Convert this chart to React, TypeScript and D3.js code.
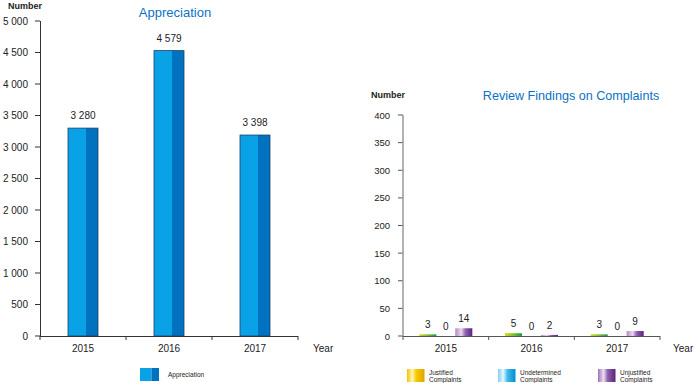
import React from "react";
import * as d3 from "d3";

const years = ["2015", "2016", "2017"];
// Appreciation: bar heights as drawn, and the printed labels
const appreciationBars = [3300, 4530, 3190];
const appreciationLabels = ["3 280", "4 579", "3 398"];
const leftTicks = [0, 500, 1000, 1500, 2000, 2500, 3000, 3500, 4000, 4500, 5000];
const leftTickLabels = ["0", "500", "1 000", "1 500", "2 000", "2 500", "3 000", "3 500", "4 000", "4 500", "5 000"];

const complaintSeries = ["Justified", "Undetermined", "Unjustified"];
const justified = [3, 5, 3];
const undetermined = [0, 0, 0];
const unjustified = [14, 2, 9];
const rightTicks = [0, 50, 100, 150, 200, 250, 300, 350, 400];

const FONT = "'Liberation Sans', Arial, sans-serif";

export default function App() {
  // Left chart scales
  const lx = d3.scaleBand<string>().domain(years).range([40, 298]);
  const ly = d3.scaleLinear().domain([0, 5000]).range([336, 21]);
  const barW = 30;

  // Right chart scales
  const rx = d3.scaleBand<string>().domain(years).range([403, 660]);
  const ry = d3.scaleLinear().domain([0, 400]).range([336, 115]);
  const seriesVals = [justified, undetermined, unjustified];
  const inner = d3.scaleBand<string>().domain(complaintSeries).range([-26.5, 26.5]).paddingInner(0.05);
  const barFills = ["url(#gJusBar)", "url(#gUndBar)", "url(#gUnjBar)"];
  const legendFills = ["url(#gJus)", "url(#gUnd)", "url(#gUnj)"];
  const legendX = [407, 498, 598];

  const lBounds = [40, ...years.map((y) => (lx(y) as number) + lx.bandwidth())];
  const rBounds = [403, ...years.map((y) => (rx(y) as number) + rx.bandwidth())];

  return (
    <svg width={700} height={383} style={{ position: "absolute", left: 0, top: 0, background: "#fff" }} fontFamily={FONT}>
      <defs>
        <linearGradient id="gJus" x1="0" x2="1" y1="0" y2="0">
          <stop offset="0" stopColor="#f2c200" />
          <stop offset="0.3" stopColor="#fff5b0" />
          <stop offset="0.55" stopColor="#f5c800" />
          <stop offset="1" stopColor="#e0a400" />
        </linearGradient>
        <linearGradient id="gUnd" x1="0" x2="1" y1="0" y2="0">
          <stop offset="0" stopColor="#80d0f0" />
          <stop offset="0.3" stopColor="#e6f7ff" />
          <stop offset="0.55" stopColor="#40b8ea" />
          <stop offset="1" stopColor="#0090d0" />
        </linearGradient>
        <linearGradient id="gUnj" x1="0" x2="1" y1="0" y2="0">
          <stop offset="0" stopColor="#a070b8" />
          <stop offset="0.32" stopColor="#ecdff2" />
          <stop offset="0.55" stopColor="#9060b0" />
          <stop offset="1" stopColor="#5a2478" />
        </linearGradient>
        <linearGradient id="gJusBar" x1="0" x2="1" y1="0" y2="0">
          <stop offset="0" stopColor="#d8d800" />
          <stop offset="0.4" stopColor="#8cc630" />
          <stop offset="1" stopColor="#1e9a40" />
        </linearGradient>
        <linearGradient id="gUndBar" x1="0" x2="1" y1="0" y2="0">
          <stop offset="0" stopColor="#80d0f0" />
          <stop offset="0.3" stopColor="#e6f7ff" />
          <stop offset="1" stopColor="#0090d0" />
        </linearGradient>
        <linearGradient id="gUnjBar" x1="0" x2="1" y1="0" y2="0">
          <stop offset="0" stopColor="#b688c8" />
          <stop offset="0.35" stopColor="#ead8f0" />
          <stop offset="0.6" stopColor="#9060b0" />
          <stop offset="1" stopColor="#5a2478" />
        </linearGradient>
      </defs>

      {/* ===== Left chart ===== */}
      <text x={8} y={9} fontSize={9} fontWeight="bold" fill="#222">Number</text>
      <text x={175} y={17} fontSize={13} fill="#0a72c4" textAnchor="middle">Appreciation</text>
      {leftTicks.map((t, i) => (
        <g key={t}>
          <line x1={35} x2={40} y1={ly(t)} y2={ly(t)} stroke="#333" />
          <text x={28} y={ly(t) + 3.5} fontSize={10} textAnchor="end" fill="#222">{leftTickLabels[i]}</text>
        </g>
      ))}
      <line x1={40.5} x2={40.5} y1={ly(5000)} y2={ly(0)} stroke="#333" />
      {years.map((y, i) => {
        const cx = (lx(y) as number) + lx.bandwidth() / 2;
        const x0 = cx - barW / 2;
        const top = ly(appreciationBars[i]);
        const h = ly(0) - top;
        return (
          <g key={y}>
            <rect x={x0} y={top} width={barW * 0.6} height={h} fill="#0aa2e6" />
            <rect x={x0 + barW * 0.6} y={top} width={barW * 0.4} height={h} fill="#0072c0" />
            <rect x={x0} y={top} width={barW} height={h} fill="none" stroke="#1d3f66" strokeWidth={0.8} />
            <text x={cx} y={top - 9} fontSize={10} textAnchor="middle" fill="#222">{appreciationLabels[i]}</text>
            <text x={cx} y={352} fontSize={10} textAnchor="middle" fill="#222">{y}</text>
          </g>
        );
      })}
      <line x1={40} x2={298} y1={336.5} y2={336.5} stroke="#333" />
      {lBounds.map((b) => (
        <line key={b} x1={b} x2={b} y1={336} y2={340} stroke="#333" />
      ))}
      <text x={313} y={352} fontSize={10} fill="#222">Year</text>
      {/* legend */}
      <rect x={140} y={368} width={11.5} height={13} fill="#0aa2e6" />
      <rect x={151.5} y={368} width={7.5} height={13} fill="#0072c0" />
      <text x={168} y={376.5} fontSize={6.5} fill="#222">Appreciation</text>

      {/* ===== Right chart ===== */}
      <text x={371} y={98} fontSize={9} fontWeight="bold" fill="#222">Number</text>
      <text x={571} y={100} fontSize={12.6} fill="#0a72c4" textAnchor="middle">Review Findings on Complaints</text>
      {rightTicks.map((t) => (
        <g key={t}>
          <line x1={398} x2={403} y1={ry(t)} y2={ry(t)} stroke="#555" />
          <text x={390} y={ry(t) + 3.5} fontSize={9.5} textAnchor="end" fill="#222">{t}</text>
        </g>
      ))}
      <line x1={403} x2={403} y1={ry(400)} y2={ry(0)} stroke="#999" strokeWidth={1.5} />
      {years.map((y, i) => {
        const cx = (rx(y) as number) + rx.bandwidth() / 2;
        return (
          <g key={y}>
            {complaintSeries.map((s, k) => {
              const v = seriesVals[k][i];
              const bx = cx + (inner(s) as number);
              const top = ry(v);
              return (
                <g key={s}>
                  {v > 0 && <rect x={bx} y={top} width={inner.bandwidth()} height={ry(0) - top} fill={barFills[k]} />}
                  <text x={bx + inner.bandwidth() / 2} y={top - 6} fontSize={10} textAnchor="middle" fill="#222">{v}</text>
                </g>
              );
            })}
            <text x={cx} y={352} fontSize={10} textAnchor="middle" fill="#222">{y}</text>
          </g>
        );
      })}
      <line x1={403} x2={660} y1={336.5} y2={336.5} stroke="#555" />
      {rBounds.map((b) => (
        <line key={b} x1={b} x2={b} y1={336} y2={340} stroke="#555" />
      ))}
      <text x={673} y={352} fontSize={10} fill="#222">Year</text>
      {/* legend */}
      {complaintSeries.map((s, k) => (
        <g key={s}>
          <rect x={legendX[k]} y={369} width={17.5} height={13} fill={legendFills[k]} />
          <text x={legendX[k] + 22} y={374.5} fontSize={6.5} fill="#222">{s}</text>
          <text x={legendX[k] + 22} y={381.5} fontSize={6.5} fill="#222">Complaints</text>
        </g>
      ))}
    </svg>
  );
}
